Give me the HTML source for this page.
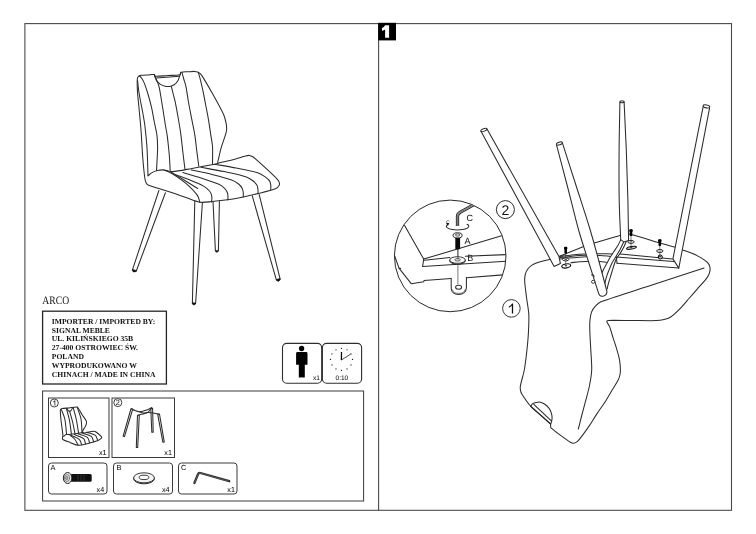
<!DOCTYPE html>
<html lang="en">
<head>
<meta charset="utf-8">
<title>ARCO - assembly instructions</title>
<style>
  html, body { margin: 0; padding: 0; background: #ffffff; }
  body { width: 756px; height: 534px; overflow: hidden; position: relative;
         font-family: "Liberation Sans", sans-serif; color: #000; }
  #sheet { position: absolute; left: 0; top: 0; width: 756px; height: 534px; }
  svg { position: absolute; left: 0; top: 0; }
  svg text { text-rendering: geometricPrecision; }
  #sheet { will-change: transform; transform: translateZ(0); background: transparent; }
  .serif { font-family: "Liberation Serif", serif; }
  .sans  { font-family: "Liberation Sans", sans-serif; }
  .ln  { fill: none; stroke: #2b2b2b; stroke-width: 1.05; stroke-linecap: round; stroke-linejoin: round; }
  .lnw { fill: #ffffff; stroke: #2b2b2b; stroke-width: 1.05; stroke-linecap: round; stroke-linejoin: round; }
  .thin { fill: none; stroke: #333; stroke-width: 0.6; stroke-linecap: round; stroke-linejoin: round; }
  .box { fill: none; stroke: #3a3a3a; stroke-width: 1; }
</style>
</head>
<body>
<div id="sheet">
<svg width="756" height="534" viewBox="0 0 756 534">
  <rect x="0" y="0" width="756" height="534" fill="#ffffff"/>

  <!-- ===== page frame ===== -->
  <g id="frame">
    <rect x="24.9" y="23.6" width="706.6" height="486.7" fill="none" stroke="#4a4a4a" stroke-width="1.1"/>
    <line x1="378.6" y1="23.6" x2="378.6" y2="510.3" stroke="#4a4a4a" stroke-width="1.1"/>
    <rect x="378.2" y="22.8" width="17.8" height="17.6" fill="#000"/>
    <path d="M385.1 25.2h4v12.6h-4v-8.3q-1.5 1-3.1 1.4v-2.9q2.1-.8 3.1-2.8z" fill="#fff"/>
  </g>

  <!-- ===== left panel : product chair ===== -->
  <g id="chair-main">
<path class="lnw" d="M158.9 190.5L132.6 269.3L133.6 271.4L136.3 271L165.4 192.8"/>
<path d="M132.5 269.4l3.9 1.2l-.3.9l-2.6.5l-1.2-1.6z" fill="#111" stroke="#111" stroke-width="0.6" stroke-linejoin="round"/>
<path class="lnw" d="M194.8 201L192.4 302.6L193.6 304.6L195.6 303.4L202.4 202.5"/>
<path d="M192.4 302.7l3.2.4l-.1 1l-1.9 1l-1.3-1.4z" fill="#111" stroke="#111" stroke-width="0.6" stroke-linejoin="round"/>
<path class="lnw" d="M213 201.5L215.4 250.6L216.9 252L218.4 250.6L219.4 201.5"/>
<path d="M215.4 250.4h3l-.1.9l-1.4.9l-1.4-.9z" fill="#222" stroke="#222" stroke-width="0.5" stroke-linejoin="round"/>
<path class="lnw" d="M252.2 195.7L276.2 279.4L278.4 280.9L280.1 278.8L259.2 194.6"/>
<path d="M276.2 279.5l3.8-.9l.3 1l-1.8 1.6l-2-.6z" fill="#111" stroke="#111" stroke-width="0.6" stroke-linejoin="round"/>
<path class="lnw" d="M137.2 81C137.21 79.97 137.21 78.55 137.6 77.6C137.9 76.87 138.7 76.06 139.4 75.7C140.1 75.33 141.21 75.37 142 75.3C143.8 75.13 146.2 75.02 148 74.9C149.86 74.78 152.37 74.14 154.2 74.5C154.81 74.62 154.58 76.26 155.2 76.3C159.04 76.58 164.16 75.75 168 75.5C171.57 75.27 176.43 75.56 179.9 74.7C180.67 74.51 180.25 72.57 181 72.3C182.98 71.59 185.9 71.94 188 71.8C189.92 71.67 192.48 71.38 194.4 71.4C195.37 71.41 196.69 71.56 197.6 71.9C198.47 72.23 199.52 72.96 200.2 73.6C200.98 74.33 201.84 75.49 202.4 76.4C205.69 81.77 209.94 89 213 94.5C216.3 100.43 220.78 108.32 223.6 114.5C224.73 116.97 225.58 120.53 226.1 123.2C226.49 125.21 226.75 127.96 226.6 130C226.47 131.73 225.71 133.94 225.2 135.6C224.03 139.44 222.11 144.44 221 148.3C220.12 151.35 219.26 155.5 218.6 158.6C218.33 159.88 217.36 161.71 217.9 162.9C218.21 163.59 219.66 162.75 220.4 162.6C223.89 161.88 228.55 160.92 232 160C236.12 158.91 241.48 156.99 245.6 155.9C246.71 155.61 248.26 155.27 249.4 155.4C250.49 155.52 251.87 156.13 252.8 156.7C253.87 157.35 255.06 158.57 256 159.4C259.02 162.08 263.05 165.64 266 168.4C269.53 171.7 274.29 176.07 277.6 179.6C278.31 180.36 279.02 181.6 279.3 182.6C279.52 183.38 279.6 184.59 279.2 185.3C278.54 186.48 277.27 188.01 276 188.5C270.47 190.62 262.74 192.34 257 193.8C252.23 195.01 245.83 196.44 241 197.4C236.28 198.33 229.96 199.41 225.2 200.1C221.26 200.67 215.97 201.27 212 201.6C208.35 201.9 203.42 202.76 199.8 202.2C195.49 201.54 190.12 199.02 186 197.6C181.87 196.17 176.44 194.08 172.3 192.7C168.34 191.38 162.98 189.86 159 188.6C155.87 187.61 151.61 186.52 148.6 185.2C147.71 184.81 146.66 183.86 146.2 183C145.47 181.62 145.01 179.54 144.8 178C143.96 171.73 143.2 163.31 142.7 157C142.06 148.91 141.61 138.09 141 130C140.5 123.39 139.61 114.6 139 108C138.56 103.2 137.82 96.81 137.5 92C137.28 88.71 137.18 84.3 137.2 81Z"/>
<path class="ln" d="M148 175.8C149.2 174.84 150.66 173.35 152 172.6C153.54 171.74 155.78 170.89 157.5 170.5C159.38 170.07 161.98 169.76 163.9 169.9C166.46 170.09 169.73 171.74 172.3 171.6C178.28 171.28 186.1 169.43 192 168.4C198.82 167.21 207.9 165.51 214.7 164.2C215.67 164.01 216.94 163.64 217.9 163.4"/>
<path class="ln" d="M163.9 169.9C166.42 171.04 169.89 172.34 172.3 173.7C175.04 175.26 178.47 177.71 181 179.6C183.58 181.53 187 184.15 189.3 186.4C192.02 189.06 195.59 192.73 197.7 195.9C198.8 197.56 199.17 200.31 199.8 202.2"/>
<path class="ln" d="M171.5 172.2C175.25 174.54 180.25 177.67 184 180C188.11 182.56 193.59 185.95 197.7 188.5"/>
<path class="ln" d="M137.6 80.5C137.9 83.35 138.2 87.16 138.6 90C139.07 93.32 139.9 97.71 140.5 101C141.16 104.61 142.15 109.39 142.8 113C143.44 116.59 144.35 121.38 144.8 125C145.58 131.34 146.42 139.83 146.9 146.2C147.26 150.93 147.42 157.26 147.6 162C147.75 166.14 147.88 171.66 148 175.8"/>
<path class="ln" d="M139.5 75.8C140.25 76.7 141.38 77.81 142 78.8C142.92 80.25 143.99 82.3 144.6 83.9C145.91 87.32 147.38 91.98 148.4 95.5C149.54 99.43 150.91 104.71 151.8 108.7C152.68 112.66 153.52 118.01 154.3 122C155.05 125.88 156.37 130.99 156.9 134.9C157.36 138.27 157.56 142.8 157.6 146.2C157.65 149.74 157.36 154.46 157.2 158C157.03 161.75 156.71 166.75 156.5 170.5"/>
<path class="ln" d="M154.4 74.8C155.12 76.54 156.11 78.85 156.8 80.6C157.52 82.45 158.64 84.87 159.1 86.8C160.03 90.71 160.73 96.04 161.4 100C162.05 103.9 162.88 109.1 163.5 113C164.02 116.3 164.66 120.71 165.2 124C165.74 127.28 166.62 131.62 167.1 134.9C167.58 138.22 168.05 142.67 168.4 146C168.74 149.21 169.16 153.48 169.4 156.7C169.7 160.84 169.96 166.36 170.2 170.5"/>
<path class="ln" d="M171.4 86.6C171.94 88.82 172.65 91.78 173.2 94C173.76 96.22 174.63 99.16 175.1 101.4C176.13 106.36 177.34 113.01 178.2 118C179.08 123.06 180.21 129.81 180.9 134.9C181.62 140.17 182.27 147.22 182.9 152.5C183.5 157.57 184.37 164.33 185 169.4"/>
<path class="ln" d="M182 72.6C182.57 74.67 183.32 77.43 183.9 79.5C184.52 81.69 185.54 84.57 186 86.8C186.87 91.03 187.56 96.75 188.3 101C189.09 105.48 190.24 111.43 191.1 115.9C192.19 121.6 193.87 129.17 194.8 134.9C195.55 139.52 196.11 145.75 196.7 150.4C197.31 155.17 198.17 161.53 198.8 166.3"/>
<path class="ln" d="M198.3 72.4C198.99 74.86 199.98 78.12 200.6 80.6C201.39 83.76 202.33 88.01 203 91.2C203.89 95.48 204.97 101.21 205.8 105.5C206.65 109.94 207.84 115.85 208.6 120.3C209.34 124.67 210.14 130.52 210.8 134.9C211.31 138.29 212.19 142.79 212.5 146.2C212.74 148.83 212.6 152.36 212.6 155C212.6 157.76 212.53 161.44 212.5 164.2"/>
<path class="ln" d="M154.2 74.6C154.86 76.34 155.41 78.83 156.4 80.4C157.31 81.83 158.99 83.45 160.4 84.4C161.63 85.23 163.56 85.86 165 86.2C166.29 86.5 168.09 86.7 169.4 86.5C170.91 86.27 172.95 85.68 174.2 84.8C175.62 83.79 177.12 81.9 178 80.4C178.94 78.8 179.57 76.35 180.2 74.6C180.44 73.95 180.69 73.06 180.9 72.4"/>
<path class="ln" d="M156.4 77.9L179.3 76.3"/>
<path class="ln" d="M175.5 174.7C179.85 176.29 185.72 178.24 190 180C194.27 181.75 199.98 184.13 204 186.4C205.87 187.46 208.07 189.4 209.5 191C210.36 191.96 211.11 193.57 211.5 194.8C211.84 195.86 211.9 197.38 211.9 198.5C211.9 199.56 211.62 200.95 211.5 202"/>
<path class="ln" d="M182.9 172.6C188.33 174.22 195.61 176.25 201 178C206.41 179.76 213.68 182.02 218.9 184.3C220.81 185.14 223.11 186.83 224.6 188.3C225.71 189.4 226.8 191.25 227.4 192.7C227.84 193.77 227.94 195.35 228 196.5C228.06 197.55 227.86 198.95 227.8 200"/>
<path class="ln" d="M191.4 169.9C197.58 171.28 205.86 172.96 212 174.5C217.92 175.99 225.85 177.95 231.6 180C233.88 180.81 236.71 182.49 238.6 184C239.95 185.08 241.4 186.97 242.2 188.5C242.84 189.73 243.14 191.62 243.3 193C243.44 194.19 243.23 195.8 243.2 197"/>
<path class="ln" d="M200.9 167.3C207.83 168.59 217.1 170.14 224 171.6C230.76 173.03 239.83 174.78 246.4 176.9C248.67 177.63 251.33 179.52 253.2 181C254.55 182.07 256.16 183.8 257 185.3C257.65 186.46 257.84 188.29 258 189.6C258.14 190.79 258 192.4 258 193.6"/>
<path class="ln" d="M214.7 164.2C221.09 165.34 229.63 166.74 236 168C242.33 169.26 250.82 170.75 257 172.6C259.52 173.35 262.61 175.14 264.8 176.6C266.46 177.71 268.58 179.45 269.7 181.1C270.45 182.2 270.65 184.08 270.8 185.4C270.95 186.71 270.73 188.48 270.7 189.8"/>
  </g>

  <!-- ===== left panel : title + importer ===== -->
  <g id="title">
    <text x="42.3" y="303.8" class="serif" font-size="11.3" fill="#111" textLength="26.8" lengthAdjust="spacingAndGlyphs">ARCO</text>
    <rect x="42.6" y="311.2" width="123.8" height="72.8" fill="none" stroke="#262626" stroke-width="1.3"/>
    <g class="serif" font-weight="700" font-size="7.62" fill="#111">
      <text x="51.8" y="323.7">IMPORTER / IMPORTED BY:</text>
      <text x="51.8" y="332.55">SIGNAL MEBLE</text>
      <text x="51.8" y="341.4">UL. KILIŃSKIEGO 35B</text>
      <text x="51.8" y="350.25">27-400 OSTROWIEC ŚW.</text>
      <text x="51.8" y="359.1">POLAND</text>
      <text x="51.8" y="367.95">WYPRODUKOWANO W</text>
      <text x="51.8" y="376.8">CHINACH / MADE IN CHINA</text>
    </g>
  </g>

  <!-- ===== left panel : person + clock badges ===== -->
  <g id="badges">
<rect x="282.5" y="343.4" width="39.2" height="39.8" rx="4.2" ry="4.2" fill="#fff" stroke="#2e2e2e" stroke-width="1.1"/>
<rect x="322.4" y="343.4" width="39.2" height="39.8" rx="4.2" ry="4.2" fill="#fff" stroke="#2e2e2e" stroke-width="1.1"/>
<circle cx="301.6" cy="348.5" r="2.65" fill="#000"/>
<path d="M296.1 353.4a1.4 1.4 0 0 1 1.4-1.4h8.6a1.4 1.4 0 0 1 1.4 1.4v11.4h-2.7v12.2a.6.6 0 0 1-.6.6h-1.7a.5.5 0 0 1-.5-.5h-.4a.5.5 0 0 1-.5.5h-1.7a.6.6 0 0 1-.6-.6v-12.2h-2.7z" fill="#000"/>
<text x="313.1" y="379.7" class="sans" font-size="6.5" fill="#000">x1</text>
<circle cx="341.5" cy="348.4" r="0.62" fill="#111"/>
<circle cx="347" cy="349.87" r="0.62" fill="#111"/>
<circle cx="351.03" cy="353.9" r="0.62" fill="#111"/>
<circle cx="352.5" cy="359.4" r="0.62" fill="#111"/>
<circle cx="351.03" cy="364.9" r="0.62" fill="#111"/>
<circle cx="347" cy="368.93" r="0.62" fill="#111"/>
<circle cx="341.5" cy="370.4" r="0.62" fill="#111"/>
<circle cx="336" cy="368.93" r="0.62" fill="#111"/>
<circle cx="331.97" cy="364.9" r="0.62" fill="#111"/>
<circle cx="330.5" cy="359.4" r="0.62" fill="#111"/>
<circle cx="331.97" cy="353.9" r="0.62" fill="#111"/>
<circle cx="336" cy="349.87" r="0.62" fill="#111"/>
<line x1="341.4" y1="360" x2="341.5" y2="352" stroke="#000" stroke-width="1.25"/>
<line x1="341.2" y1="360.1" x2="350.6" y2="354.2" stroke="#111" stroke-width="0.75"/>
<text x="341.9" y="379.8" text-anchor="middle" class="sans" font-size="6.5" fill="#000">0:10</text>
  </g>

  <!-- ===== left panel : parts list ===== -->
  <g id="parts">
    <rect x="42.6" y="391" width="321" height="110" class="box"/>
    <rect x="48.5" y="398" width="60.5" height="59.5" class="box"/>
    <rect x="112" y="398" width="62.5" height="59.5" class="box"/>
    <rect x="48.5" y="463" width="58.5" height="31" rx="3" ry="3" class="box"/>
    <rect x="113.5" y="463" width="59" height="31" rx="3" ry="3" class="box"/>
    <rect x="178.5" y="463" width="58.5" height="31" rx="3" ry="3" class="box"/>
<circle cx="54.3" cy="403" r="4" fill="#fff" stroke="#111" stroke-width="0.8"/>
<path d="M54.7 400.3h0.56v5.4h-0.7v-4.18q-0.72 0.67 -1.67 1v-0.64q1.28 -0.56 1.81 -1.67z" fill="#111"/>
<circle cx="117.8" cy="402.6" r="4" fill="#fff" stroke="#111" stroke-width="0.8"/>
<text x="117.8" y="405.26" text-anchor="middle" class="sans" font-size="7.4" fill="#111">2</text>
<text x="98.9" y="455.2" class="sans" font-size="7.2" fill="#000">x1</text>
<text x="164.3" y="455.2" class="sans" font-size="7.2" fill="#000">x1</text>
<text x="50.5" y="469.6" class="sans" font-size="7.4" fill="#000">A</text>
<text x="116.6" y="469.6" class="sans" font-size="7.4" fill="#000">B</text>
<text x="181" y="469.6" class="sans" font-size="7.4" fill="#000">C</text>
<text x="96.6" y="492" class="sans" font-size="7.2" fill="#000">x4</text>
<text x="161.9" y="492" class="sans" font-size="7.2" fill="#000">x4</text>
<text x="227.3" y="492" class="sans" font-size="7.2" fill="#000">x1</text>
<path class="lnw" d="M60.3 411.5C60.27 410.86 60.28 409.95 60.6 409.4C60.84 408.98 61.52 408.69 62 408.6C64.08 408.23 66.9 408.12 69 407.9C71.4 407.64 74.59 406.9 77 407C77.55 407.02 77.99 407.84 78.3 408.3C79.5 410.1 80.85 412.67 82 414.5C83.25 416.48 85.28 418.9 86.3 421C86.64 421.7 86.53 422.83 86.4 423.6C86.25 424.48 85.74 425.57 85.4 426.4C84.66 428.22 81.53 430.9 82.8 432.4C84.19 434.03 87.77 431.92 89.9 431.7C91.25 431.56 93.04 431.13 94.4 431.2C94.94 431.23 95.58 431.67 96 432C97.68 433.3 100 435 101.4 436.6C101.72 436.96 101.72 437.84 101.4 438.2C100.59 439.11 99.13 439.96 98 440.4C95.08 441.53 91.04 442.65 88 443.4C85.09 444.12 81.19 445.47 78.2 445.3C75.59 445.16 72.45 443.3 70 442.4C67.95 441.65 65.13 440.82 63.2 439.8C62.77 439.57 62.43 438.88 62.4 438.4C62.34 437.49 62.97 436.31 62.9 435.4C62.58 431.06 61.57 425.33 61.1 421C60.79 418.16 60.42 414.36 60.3 411.5Z" stroke-width="0.75"/>
<path class="ln" d="M63.6 436.4C64.32 435.86 65.16 434.91 66 434.6C66.85 434.29 68.1 434.51 69 434.4C73.15 433.91 78.66 433.14 82.8 432.6" stroke-width="0.75"/>
<path class="ln" d="M69 434.4C70.68 435.78 73.2 437.34 74.6 439C76 440.66 77.12 443.41 78.2 445.3" stroke-width="0.75"/>
<path class="ln" d="M61.4 409.6C62.42 412.42 64.19 416.06 64.8 419C65.76 423.61 66.06 429.92 66.6 434.6" stroke-width="0.75"/>
<path class="ln" d="M66.4 408.4C67.3 411.88 68.71 416.47 69.4 420C70.22 424.19 70.8 429.87 71.4 434.1" stroke-width="0.75"/>
<path class="ln" d="M69.6 411.4C70.5 414.58 71.82 418.79 72.6 422C73.44 425.45 74.28 430.12 75 433.6" stroke-width="0.75"/>
<path class="ln" d="M73.2 407.6C74.16 411.32 75.61 416.24 76.4 420C77.23 423.93 77.94 429.24 78.6 433.2" stroke-width="0.75"/>
<path class="ln" d="M77.2 407.2C78.34 410.74 80.31 415.35 81 419C81.76 423.02 81.7 428.52 82 432.6" stroke-width="0.75"/>
<path class="ln" d="M66.8 408.4C67.28 409.12 67.69 410.31 68.4 410.8C68.95 411.17 70.06 411.39 70.6 411C71.52 410.34 72 408.76 72.6 407.8" stroke-width="0.75"/>
<path class="ln" d="M71.4 435.4C73.8 436.66 77.39 437.78 79.4 439.6C80.62 440.7 80.94 443.1 81.6 444.6" stroke-width="0.75"/>
<path class="ln" d="M74.4 434.6C77.16 435.8 81.27 436.69 83.6 438.6C84.89 439.66 85 442.24 85.6 443.8" stroke-width="0.75"/>
<path class="ln" d="M78 433.8C80.82 434.88 85.01 435.55 87.4 437.4C88.78 438.47 88.94 441.18 89.6 442.8" stroke-width="0.75"/>
<path class="ln" d="M82 433C84.82 434.02 89.01 434.59 91.4 436.4C92.79 437.46 92.94 440.18 93.6 441.8" stroke-width="0.75"/>
<path class="ln" d="M86.6 432.2C89.24 433.16 93.15 433.72 95.4 435.4C96.71 436.38 96.94 438.9 97.6 440.4" stroke-width="0.75"/>
<path class="lnw" d="M150.8 408.43L151.8 432.32L153.2 432.28L152.6 408.37Z" stroke-width="0.55" fill="#e2e2e2"/>
<path class="lnw" d="M130.94 408.75L123.13 436.2L124.47 436.6L132.66 409.25Z" stroke-width="0.55" fill="#e2e2e2"/>
<path class="lnw" d="M157.71 414.36L162.91 442.32L164.29 442.08L159.49 414.04Z" stroke-width="0.55" fill="#e2e2e2"/>
<path class="ln" d="M131.6 408.6C132.62 409.2 133.91 410.15 135 410.6C136.27 411.12 138.03 411.8 139.4 411.8C141.12 411.8 143.37 411.13 145 410.6C147.07 409.93 149.69 408.64 151.7 407.8" stroke-width="1.2" stroke="#444"/>
<path class="ln" d="M138.4 415C139.78 414.7 141.63 414.36 143 414C144.4 413.64 146.16 412.74 147.6 412.6C149.22 412.44 151.39 412.79 153 413C154.69 413.22 156.92 413.7 158.6 414" stroke-width="1.2" stroke="#444"/>
<path class="ln" d="M139.4 411.8C140.48 412.16 141.87 412.89 143 413C144.38 413.13 146.33 413.15 147.6 412.6C148.58 412.18 149.31 410.81 150 410C150.54 409.37 151.19 408.46 151.7 407.8" stroke-width="1" stroke="#444"/>
<path class="lnw" d="M137.5 415.16L136.3 447.37L137.7 447.43L139.3 415.24Z" stroke-width="0.55" fill="#e2e2e2"/>
<rect x="70.5" y="474" width="21.2" height="7.8" rx="1.6" ry="1.6" fill="#111"/>
<path d="M78 474.4v7M81 474.4v7M84 474.4v7" stroke="#555" stroke-width="0.5" fill="none"/>
<ellipse cx="67.6" cy="478" rx="4.3" ry="5.5" fill="#e4e4e4" stroke="#111" stroke-width="0.9"/>
<ellipse cx="67" cy="478" rx="2.5" ry="3.4" fill="#fff" stroke="#222" stroke-width="0.6"/>
<ellipse cx="66.8" cy="478" rx="1.2" ry="1.7" fill="#bbb" stroke="#222" stroke-width="0.5"/>
<ellipse cx="144" cy="478.6" rx="10.4" ry="5.2" fill="#e8e8e8" stroke="#111" stroke-width="0.9"/>
<ellipse cx="144" cy="477.8" rx="10.4" ry="5" fill="#f4f4f4" stroke="#111" stroke-width="0.8"/>
<ellipse cx="144" cy="477.4" rx="4.8" ry="2.2" fill="#fff" stroke="#111" stroke-width="0.8"/>
<path d="M194.4 483l3.6-8.8q.7-1.7 2.4-1.2l28.8 8.2" fill="none" stroke="#2a2a2a" stroke-width="2.3" stroke-linecap="round" stroke-linejoin="round"/>
<path d="M194.6 482.6l3.6-8.6q.6-1.2 1.9-.9l28.5 8.1" fill="none" stroke="#777" stroke-width="0.6" stroke-linecap="round"/>
  </g>

  <!-- ===== right panel : step 1 ===== -->
  <g id="step1">
<path class="lnw" d="M553.6 258.5C551.25 259.34 547.42 259.78 545 260.4C542.74 260.98 539.28 261.89 537.1 262.7C535.47 263.31 533.04 264.43 531.6 265.4C530.43 266.18 528.82 267.66 528 268.8C527.04 270.14 525.82 272.41 525.4 274C524.87 275.98 524.6 279.15 524.7 281.2C524.94 285.98 526.01 293.25 526.6 298C527.17 302.6 528.56 309.57 528.8 314.2C529.07 319.52 528.69 327.68 528.4 333C528.12 338.17 527.37 346.05 526.8 351.2C526.21 356.54 525.27 364.72 524.3 370C523.46 374.56 521.25 381.34 520.4 385.9C520.17 387.15 520.28 389.14 520.5 390.4C520.68 391.47 521.22 393.09 521.8 394C524.1 397.59 527.77 403.01 530.6 406.2C533.13 409.05 537.76 412.66 540.6 415.2C543.4 417.7 547.95 421.25 550.5 424C550.89 424.42 550.53 425.44 550.6 426C550.67 426.55 550.59 427.53 551 427.9C554.02 430.64 559.12 434.27 562.4 436.7C564.59 438.32 567.95 440.82 570.3 442.2C571.12 442.68 572.56 443.3 573.5 443.2C574.74 443.06 576.58 442.23 577.5 441.4C579.34 439.74 581.51 436.58 583 434.6C584.88 432.1 587.66 428.2 589.4 425.6C591.63 422.25 594.78 416.96 597 413.6C599.26 410.18 602.99 405.15 605.2 401.7C607.35 398.34 610.35 393.02 612.4 389.6C614.03 386.87 616.75 382.83 618.2 380C618.88 378.67 619.58 376.46 619.9 375C620.21 373.55 620.43 371.28 620.4 369.8C620.35 367.13 620.07 363.03 619.6 360.4C618.99 357.03 617.55 351.99 616.6 348.7C615.68 345.52 614 340.75 613 337.6C612.01 334.49 610.78 329.64 609.6 326.6C609.12 325.37 607.77 323.79 607.2 322.6C607 322.18 606.68 321.4 606.9 321C607.12 320.6 607.94 320.41 608.4 320.4C615.09 320.27 625.31 320.47 632 320.5C638.86 320.53 649.35 320.79 656.2 320.6C658.43 320.54 661.83 320.11 664 319.6C665.85 319.17 668.72 318.36 670.3 317.3C673.21 315.34 677.12 311.59 679.6 309.1C682.43 306.25 686.35 301.52 689 298.5C691.45 295.71 695.15 291.39 697.6 288.6C699.8 286.1 703.3 282.39 705.4 279.8C706.43 278.53 707.88 276.47 708.6 275C709.2 273.78 709.81 271.75 710 270.4C710.15 269.33 710.07 267.64 709.8 266.6C709.55 265.62 708.84 264.19 708.2 263.4C707.34 262.34 705.68 261.03 704.6 260.2C703.55 259.39 701.86 258.24 700.7 257.6C698.46 256.37 694.95 254.62 692.6 253.6C690.3 252.6 686.66 251.35 684.3 250.5C681.96 249.65 678.38 248.33 676 247.6C671.49 246.21 664.53 244.33 660 243C652.06 240.67 640.01 236.79 632 234.7C629.79 234.12 626.28 233.48 624 233.6C622.92 233.66 621.63 234.98 620.6 235.3C611.98 238.01 598.54 241.34 590 244.3C579.54 247.92 564.02 254.77 553.6 258.5Z"/>
<path class="ln" d="M704 268C688.4 273.1 667.59 279.88 652 285C636.69 290.02 616.09 296.15 601 301.8C599 302.55 596.85 304.63 595.4 306.2C593.96 307.76 592.24 310.11 591.5 312.1C590.56 314.64 590.15 318.3 589.9 321C589.64 323.87 589.71 327.72 589.8 330.6C589.98 336.42 590.52 344.18 590.8 350C591.09 356 591.93 364 591.7 370C591.51 374.85 590.35 381.24 589.4 386C588.45 390.77 586.62 397 585.4 401.7C584.28 406 582.72 411.7 581.6 416C580.59 419.89 579.29 425.1 578.3 429"/>
<path class="ln" d="M530.6 406.2L550.5 424"/>
<path class="ln" d="M533.8 404.3L551.6 421.1" stroke-width="0.8"/>
<path class="ln" d="M531.2 405.6C531.62 405 531.98 403.99 532.6 403.6C533.56 402.99 535.08 402.61 536.2 402.4C537.38 402.18 539.02 401.95 540.2 402.2C541.67 402.51 543.55 403.36 544.8 404.2C546.2 405.15 547.87 406.75 548.9 408.1C549.82 409.31 550.72 411.16 551.2 412.6C551.69 414.04 552.03 416.08 552.1 417.6C552.15 418.75 551.85 420.28 551.6 421.4C551.42 422.21 550.97 423.22 550.7 424"/>
<path class="ln" d="M558.3 256.7C562.41 256.16 567.88 255.33 572 254.9C575.95 254.49 581.23 254.06 585.2 253.9C589.64 253.73 595.56 253.8 600 253.8C603.6 253.8 608.4 253.87 612 253.9"/>
<path class="ln" d="M559.3 257.7C563.11 257.25 568.18 256.55 572 256.2C576.07 255.83 581.51 255.4 585.6 255.3C589.92 255.19 595.68 255.31 600 255.5C603.19 255.64 607.42 256.13 610.6 256.4"/>
<path class="ln" d="M556.5 259.4C560.1 259.01 564.89 258.43 568.5 258.1C573.77 257.62 580.81 256.98 586.1 256.7C589.37 256.53 593.73 256.63 597 256.6"/>
<path class="ln" d="M570.8 262.7C573.56 262.4 577.23 261.92 580 261.7C582.99 261.47 587 261.25 590 261.2C593 261.15 597 261.22 600 261.4C601.96 261.52 604.55 261.96 606.5 262.2"/>
<path class="ln" d="M620.3 254L672.4 258.9"/>
<path class="ln" d="M616.4 257L673.6 261.6"/>
<path class="ln" d="M617 263.2L678.8 268.1"/>
<path class="ln" d="M616.4 257L617 263.2"/>
<path class="ln" d="M620.9 239.6C619.91 241.52 618.7 244.14 617.6 246C616.5 247.86 614.79 250.19 613.6 252C612.51 253.67 611.03 255.89 610 257.6C609.01 259.25 607.82 261.51 606.9 263.2C606.02 264.81 604.83 266.96 604 268.6C603.3 269.99 602.46 271.89 601.8 273.3"/>
<path class="ln" d="M623.7 241.9C622.77 243.85 621.6 246.48 620.6 248.4C619.58 250.35 618.11 252.9 617 254.8C616.25 256.08 615.17 257.73 614.4 259C613.64 260.25 612.55 261.88 611.9 263.2C610.98 265.07 609.98 267.67 609.2 269.6C608.48 271.39 607.51 273.77 606.9 275.6C606.4 277.08 605.87 279.09 605.5 280.6C605.18 281.91 604.87 283.68 604.6 285"/>
<path class="ln" d="M626.5 240.7C625.69 242.59 624.72 245.16 623.8 247C622.86 248.89 621.43 251.32 620.3 253.1C619.21 254.83 617.37 256.9 616.4 258.7C615.59 260.19 614.96 262.4 614.4 264C613.79 265.76 613.05 268.12 612.5 269.9C611.79 272.2 610.89 275.29 610.2 277.6C609.54 279.82 608.59 282.76 608 285C607.69 286.18 607.44 287.8 607.2 289"/>
<path class="lnw" d="M619.9 102.4C619.63 118.27 619.21 134.13 619.1 150C618.98 166.67 618.9 183.34 619.2 200C619.44 213.21 620.2 226.4 620.7 239.6L623.7 241.9L628.6 240.6L627.9 200L626.3 150L624.1 102"/>
<ellipse cx="622" cy="101.7" rx="2.2" ry="1" class="lnw" fill="#eee" stroke-width="0.8"/>
<path class="lnw" d="M703 107.3L672.9 258.9L678.8 268.1L709.6 107.8"/>
<ellipse cx="706.4" cy="106.4" rx="3.4" ry="1.5" transform="rotate(10 706.4 106.4)" class="lnw" fill="#eee" stroke-width="0.8"/>
<path class="lnw" d="M487 129.1L559 256.6L560.4 263.6L554.1 266.4L481 131.2"/>
<ellipse cx="483.9" cy="129.9" rx="3.2" ry="1.3" transform="rotate(-20 483.9 129.9)" class="lnw" fill="#eee" stroke-width="0.8"/>
<path class="lnw" d="M556.5 144.8C559.83 157.46 564.31 174.33 567.6 187C570.94 199.89 575.01 217.18 578.6 230C581.31 239.69 585.57 252.41 588.6 262C591.48 271.13 595.39 283.28 598.3 292.4C599.2 295.6 601.2 296.6 603 296.2C605.6 295.6 607.2 293.4 606.8 291C604.34 281.7 601.13 269.28 598.6 260C596.15 250.98 592.91 238.95 590.2 230C586.19 216.74 580.42 199.19 576.2 186C572.05 173 566.47 155.69 562.3 142.7"/>
<ellipse cx="559.4" cy="143.5" rx="3.1" ry="1.3" transform="rotate(-18 559.4 143.5)" class="lnw" fill="#eee" stroke-width="0.8"/>
<line x1="565.7" y1="251.1" x2="565.7" y2="266.4" stroke="#222" stroke-width="0.6"/>
<ellipse cx="566.2" cy="265.9" rx="4.5" ry="2" transform="rotate(-10 566.2 265.9)" fill="#fff" stroke="#111" stroke-width="1.1"/>
<ellipse cx="566" cy="265.7" rx="1.2" ry="0.7" fill="#333"/>
<ellipse cx="565.7" cy="259.4" rx="3.2" ry="1.5" fill="#fff" stroke="#111" stroke-width="0.9"/>
<ellipse cx="565.7" cy="259.4" rx="1.3" ry="0.6" fill="#555"/>
<rect x="564.4" y="247.1" width="2.6" height="6.3" rx="0.7" fill="#000"/>
<rect x="564" y="246.8" width="3.4" height="2.6" rx="1" fill="#000"/>
<line x1="631" y1="233.6" x2="631" y2="248.3" stroke="#222" stroke-width="0.6"/>
<ellipse cx="631.5" cy="247.8" rx="5" ry="1.3" transform="rotate(-10 631.5 247.8)" fill="#c8c8c8" stroke="#111" stroke-width="1.1"/>
<ellipse cx="631.3" cy="247.6" rx="1.2" ry="0.7" fill="#333"/>
<ellipse cx="631" cy="241.9" rx="3.2" ry="1.5" fill="#fff" stroke="#111" stroke-width="0.9"/>
<ellipse cx="631" cy="241.9" rx="1.3" ry="0.6" fill="#555"/>
<rect x="629.7" y="229.6" width="2.6" height="6.3" rx="0.7" fill="#000"/>
<rect x="629.3" y="229.3" width="3.4" height="2.6" rx="1" fill="#000"/>
<line x1="659.8" y1="243.6" x2="659.8" y2="257.5" stroke="#222" stroke-width="0.6"/>
<ellipse cx="660.3" cy="257" rx="1.9" ry="2" transform="rotate(-10 660.3 257)" fill="#fff" stroke="#111" stroke-width="1.1"/>
<ellipse cx="660.1" cy="256.8" rx="1.2" ry="0.7" fill="#333"/>
<ellipse cx="659.8" cy="251" rx="3.2" ry="1.5" fill="#fff" stroke="#111" stroke-width="0.9"/>
<ellipse cx="659.8" cy="251" rx="1.3" ry="0.6" fill="#555"/>
<rect x="658.5" y="239.6" width="2.6" height="6.3" rx="0.7" fill="#000"/>
<rect x="658.1" y="239.3" width="3.4" height="2.6" rx="1" fill="#000"/>
<ellipse cx="593.2" cy="281.8" rx="1.7" ry="1.5" fill="#fff" stroke="#111" stroke-width="0.8"/>
<path d="M591.6 275a1.6 1.6 0 0 1 2.4 1.6" class="ln" stroke-width="0.8"/>
<circle cx="505.4" cy="209.6" r="9" fill="#fff" stroke="#111" stroke-width="0.9"/>
<text x="505.4" y="214.64" text-anchor="middle" class="sans" font-size="14" fill="#111">2</text>
<circle cx="511.4" cy="308.4" r="8.8" fill="#fff" stroke="#222" stroke-width="0.9"/>
<path d="M512.12 303.55h1.02v9.9h-1.28v-7.65q-1.33 1.22 -3.06 1.84v-1.17q2.35 -1.02 3.32 -3.06z" fill="#111"/>
<clipPath id="dc"><circle cx="450.2" cy="255.9" r="55.6"/></clipPath>
<circle cx="450.2" cy="255.9" r="55.8" fill="#fff" stroke="#111" stroke-width="0.9"/>
<g clip-path="url(#dc)">
<path class="ln" d="M404.6 225.4L423.7 259.1L501.6 235.8"/>
<path class="ln" d="M423.7 259.1L422.6 266.5"/>
<path class="ln" d="M424.4 260.3L449.8 257.4"/>
<path class="ln" d="M465.3 256.2L506 254.6"/>
<path class="ln" d="M422.6 266.5L506 261.3"/>
<path class="ln" d="M394.6 255.7L399 268.1L400.6 268.6"/>
<path class="ln" d="M399 268.1L411.4 283.8L423.7 281.8L424 280.6L451.2 278.6"/>
<path class="ln" d="M466.4 277.7L506 274.6"/>
<path class="lnw" d="M451.2 278.2V288.2C451.2 292 454.4 294.4 458.7 294.4C463 294.4 466.4 292 466.4 287.6V277.6"/>
<path class="thin" d="M452.2 289.6C453 292.6 455.6 293.4 458.7 293.4C461.8 293.4 464.6 292.4 465.4 289.4"/>
<ellipse cx="458.6" cy="287.3" rx="3" ry="2" class="lnw" stroke-width="0.8"/>
<line x1="457.9" y1="249" x2="457.9" y2="284.4" stroke="#222" stroke-width="0.6"/>
<ellipse cx="457.5" cy="260.8" rx="7.8" ry="3.4" fill="#e6e6e6" stroke="#111" stroke-width="0.9"/>
<ellipse cx="457.5" cy="260" rx="7.8" ry="3.3" fill="#fafafa" stroke="#111" stroke-width="0.8"/>
<ellipse cx="457.6" cy="259.8" rx="2.8" ry="1.2" fill="#fff" stroke="#111" stroke-width="0.7"/>
<line x1="457.9" y1="249" x2="457.9" y2="259.6" stroke="#222" stroke-width="0.6"/>
<rect x="455.3" y="237.4" width="4.8" height="11.8" rx="0.6" fill="#0a0a0a"/>
<ellipse cx="457.6" cy="235.4" rx="4.6" ry="2.6" fill="#f2f2f2" stroke="#111" stroke-width="0.9"/>
<ellipse cx="457.6" cy="235" rx="2.2" ry="1.2" fill="#ddd" stroke="#222" stroke-width="0.6"/>
<path class="ln" stroke-width="0.8" d="M447.6 224.6C445 226 446.4 228.6 452 229.6C459 230.8 468 229.4 468.8 226.4C469 225.4 468.2 224.6 467 224.2"/>
<path d="M445.8 222.6l3.6.6l-1.6 2.8z" fill="#111"/>
<path class="thin" d="M446.4 221.6a1.6 1.6 0 0 1 2.8 -.4"/>
<path d="M457.5 226V216.4Q457.5 213.6 460 212.4L474.4 204.4" fill="none" stroke="#222" stroke-width="3.3" stroke-linejoin="round"/>
<path d="M457.5 226V216.4Q457.5 213.6 460 212.4L474.4 204.4" fill="none" stroke="#bdbdbd" stroke-width="1.5" stroke-linejoin="round"/>
<path d="M457.5 226V216.4Q457.5 213.6 460 212.4L474.4 204.4" fill="none" stroke="#333" stroke-width="0.5" stroke-linejoin="round"/>
</g>
<text x="466.6" y="221.4" class="sans" font-size="9" fill="#111">C</text>
<text x="464.4" y="244.4" class="sans" font-size="9" fill="#111">A</text>
<text x="467.2" y="261.4" class="sans" font-size="9" fill="#111">B</text>
  </g>
</svg>
</div>
</body>
</html>
